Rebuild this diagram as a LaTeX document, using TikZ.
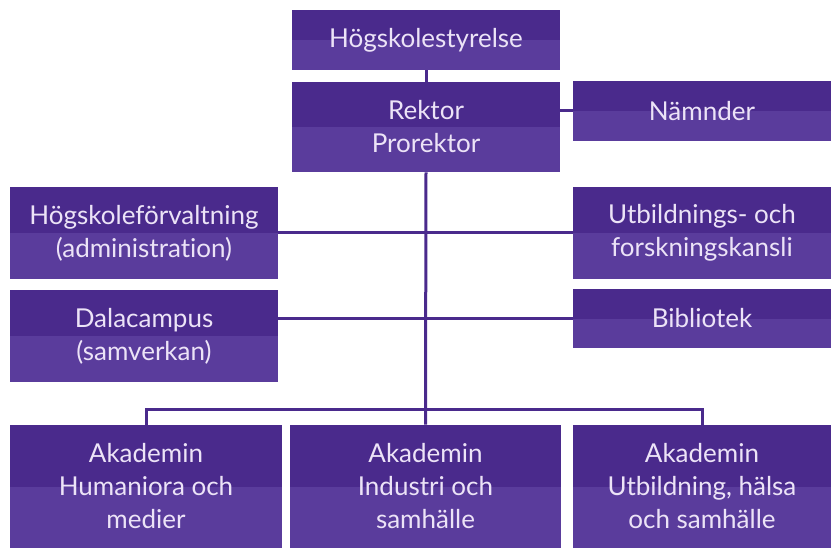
\documentclass[tikz,border=0pt]{standalone}
\usepackage{fontspec}
\setmainfont{Lato}[Ligatures={NoCommon}]
\usepackage{tikz}
\definecolor{orgdark}{HTML}{4A2A8C}
\definecolor{orglight}{HTML}{5A3C9C}
\definecolor{orgtext}{HTML}{ECE3F7}
\tikzset{
  unit/.style={rectangle, fill=orgdark, text=orgtext, align=center, inner sep=0pt,
    font=\fontsize{13}{16.5}\selectfont,
    path picture={\fill[orglight] (path picture bounding box.west) rectangle (path picture bounding box.south east);}},
  link/.style={line width=1.5pt, color=orgdark}
}
\begin{document}
\begin{tikzpicture}[x=0.5pt, y=-0.5pt]
            \useasboundingbox (0,0) rectangle (831,556);
            % top
            \node[unit, minimum width=134pt, minimum height=30pt] (styr) at (426,40) {Högskolestyrelse};
            \node[unit, minimum width=134pt, minimum height=45pt] (rektor) at (426,127) {Rektor\\Prorektor};
            \node[unit, minimum width=129pt, minimum height=30pt] (namnd) at (702,111) {Nämnder};
            % staff
            \node[unit, minimum width=134pt, minimum height=46pt] (forv) at (144,233) {Högskoleförvaltning\\(administration)};
            \node[unit, minimum width=129pt, minimum height=46pt] (utb) at (702,233) {Utbildnings- och\\forskningskansli};
            \node[unit, minimum width=134pt, minimum height=46pt] (dala) at (144,336) {Dalacampus\\(samverkan)};
            \node[unit, minimum width=129pt, minimum height=29.5pt] (bibl) at (702,318.5) {Bibliotek};
            % academies
            \node[unit, minimum width=136pt, minimum height=61.5pt] (hum) at (146,486.5) {Akademin\\Humaniora och\\medier};
            \node[unit, minimum width=135.5pt, minimum height=61.5pt] (ind) at (425.5,486.5) {Akademin\\Industri och\\samhälle};
            \node[unit, minimum width=129pt, minimum height=61.5pt] (uhs) at (702,486.5) {Akademin\\Utbildning, hälsa\\och samhälle};
            \coordinate (bus) at (425.5,409);
            % connectors
            \draw[link] (styr) -- (rektor);
            \draw[link] (namnd.west) -- (namnd.west -| rektor.east);
            \draw[link] (rektor.south) -- (bus) -- (ind.north);
            \draw[link] (forv.east) -- (utb.west);
            \draw[link] (bibl.west) -- (bibl.west -| dala.east);
            \draw[link] (hum.north) |- (bus) -| (uhs.north);
        \end{tikzpicture}
\end{document}
